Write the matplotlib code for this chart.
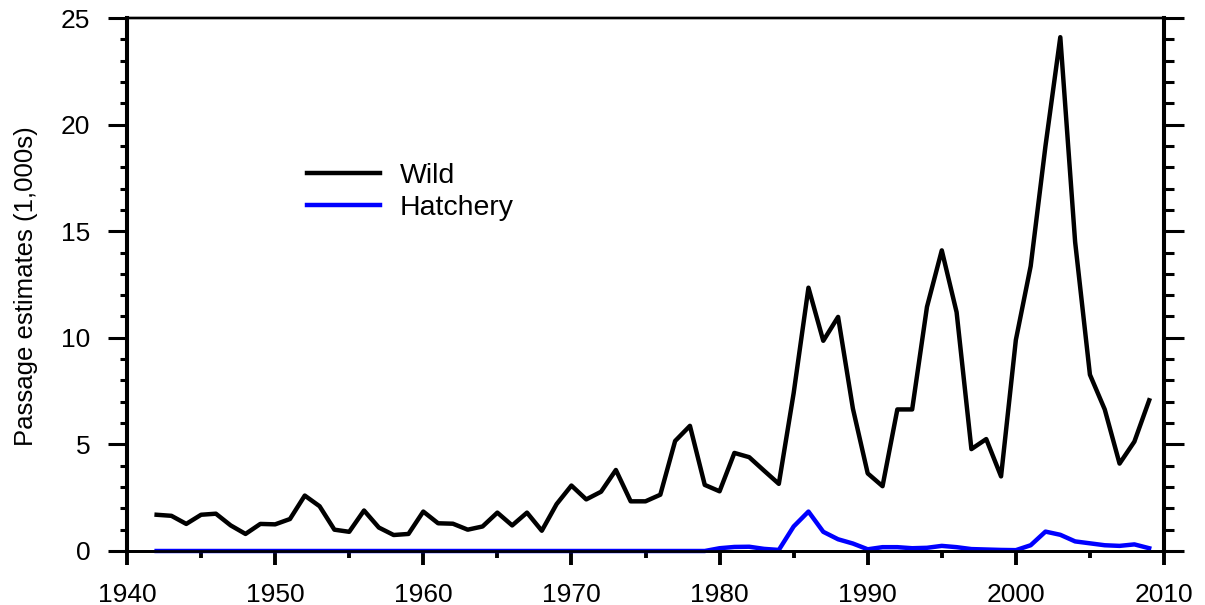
import numpy as np
import matplotlib
matplotlib.use('Agg')
import matplotlib.pyplot as plt
from matplotlib.ticker import MultipleLocator, NullFormatter

plt.rcParams['font.family'] = ['Liberation Sans', 'DejaVu Sans']

years = np.arange(1942, 2010)

# passage estimates in thousands
wild = [1.7, 1.65, 1.27, 1.7, 1.75, 1.2, 0.8, 1.27, 1.25, 1.5,
        2.6, 2.1, 1.0, 0.9, 1.9, 1.1, 0.75, 0.8, 1.85, 1.3,
        1.28, 1.0, 1.15, 1.8, 1.2, 1.8, 0.95, 2.2, 3.07, 2.42,
        2.78, 3.8, 2.33, 2.33, 2.64, 5.16, 5.87, 3.1, 2.8, 4.6,
        4.4, 3.77, 3.15, 7.4, 12.35, 9.86, 10.98, 6.68, 3.64, 3.04,
        6.64, 6.64, 11.45, 14.1, 11.2, 4.78, 5.25, 3.5, 9.9, 13.36,
        19.0, 24.1, 14.5, 8.27, 6.64, 4.1, 5.13, 7.07]

hatchery = [0.0] * 37 + [0.0, 0.13, 0.19, 0.2, 0.1, 0.05, 1.15, 1.85, 0.9,
                         0.55, 0.35, 0.08, 0.18, 0.18, 0.13, 0.15, 0.24, 0.18, 0.09,
                         0.07, 0.05, 0.04, 0.27, 0.91, 0.76, 0.45, 0.36, 0.27, 0.24,
                         0.31, 0.13]

fig = plt.figure(figsize=(12.05, 6.05), dpi=100)
ax = fig.add_axes([127 / 1205, 1 - 551 / 605, (1164 - 127) / 1205, (551 - 18) / 605])

ax.plot(years, wild, color='black', lw=3.2, label='Wild', zorder=3)
ax.plot(years, hatchery, color='#0000ff', lw=3.2, label='Hatchery', zorder=4, clip_on=False)

ax.set_xlim(1940, 2010)
ax.set_ylim(0, 25)

ax.xaxis.set_major_locator(MultipleLocator(10))
ax.xaxis.set_minor_locator(MultipleLocator(5))
ax.yaxis.set_major_locator(MultipleLocator(5))
ax.yaxis.set_minor_locator(MultipleLocator(1))

ax.tick_params(axis='both', which='both', direction='out', labelsize=19, color='black')
ax.tick_params(axis='x', which='major', length=10, width=2.8, pad=13)
ax.tick_params(axis='x', which='minor', length=5, width=2.8)
ax.tick_params(axis='y', which='major', length=13.5, width=2.2, pad=13)
ax.tick_params(axis='y', which='minor', length=5, width=2.2)

# right side ticks are longer than the left ones
ax_r = ax.twinx()
ax_r.set_ylim(0, 25)
ax_r.yaxis.set_major_locator(MultipleLocator(5))
ax_r.yaxis.set_minor_locator(MultipleLocator(1))
ax_r.yaxis.set_major_formatter(NullFormatter())
ax_r.tick_params(axis='y', which='major', direction='out', length=14.5, width=2.2)
ax_r.tick_params(axis='y', which='minor', direction='out', length=7.5, width=2.2)

for a in [ax, ax_r]:
    a.spines['left'].set_linewidth(2.9)
    a.spines['right'].set_linewidth(2.9)
    a.spines['top'].set_linewidth(1.7)
    a.spines['bottom'].set_linewidth(2.0)

ax.set_ylabel('Passage estimates (1,000s)', fontsize=18.5)
ax.yaxis.set_label_coords(-0.0858, 0.497)

ax.legend(loc='upper left', bbox_to_anchor=(307 / 1205, 1 - 163 / 605),
          bbox_transform=fig.transFigure, frameon=False, fontsize=20.5,
          handlelength=2.57, handletextpad=0.7, labelspacing=0.2,
          borderpad=0, borderaxespad=0)

fig.savefig('out.png', dpi=100)
